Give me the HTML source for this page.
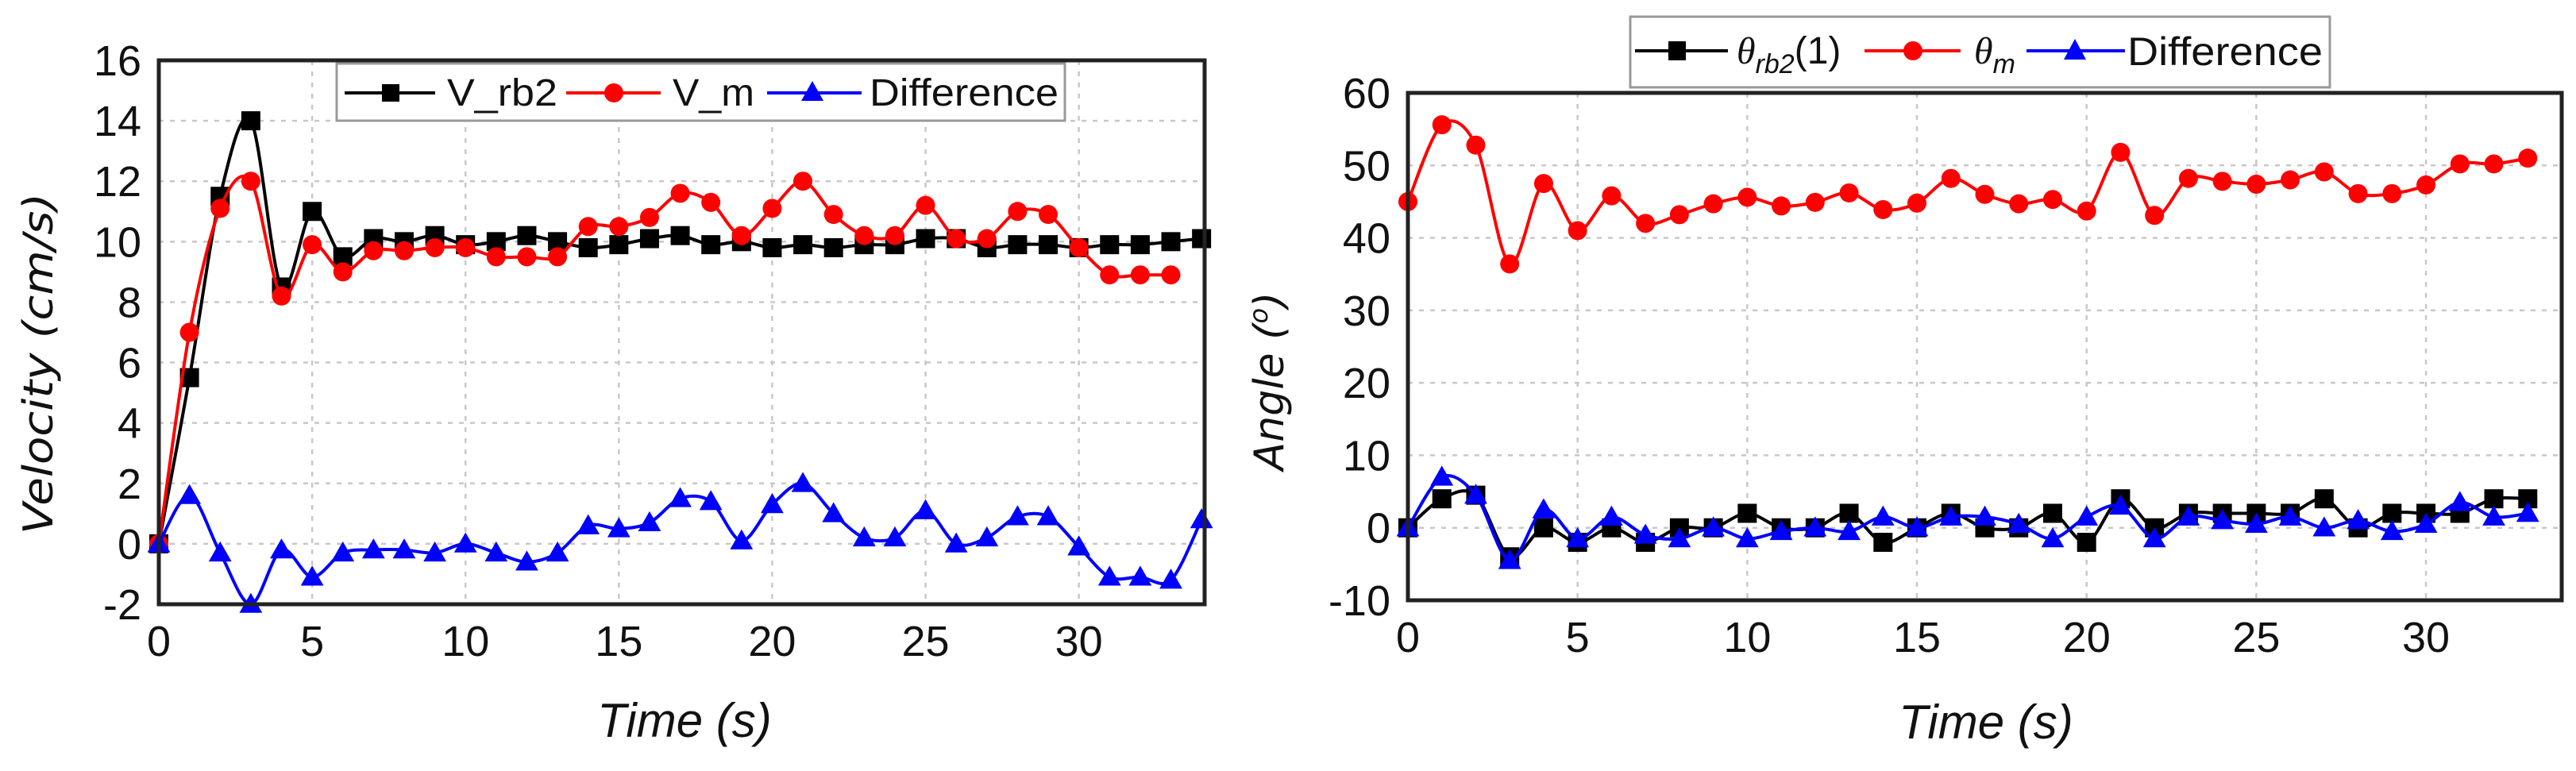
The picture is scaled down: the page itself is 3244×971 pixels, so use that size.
<!DOCTYPE html>
<html><head><meta charset="utf-8"><style>
html,body{margin:0;padding:0;background:#fff;}
svg{display:block;font-family:"Liberation Sans",Arial,sans-serif;}
</style></head><body>
<svg id="fig" width="3244" height="971" viewBox="0 0 3244 971" xmlns="http://www.w3.org/2000/svg">
<g id="left"></g>
<g id="right"></g>
</svg>
<script>
// ---------- Left chart data ----------
const velTime = [0,1,2,3,4,5,6,7,8,9,10,11,12,13,14,15,16,17,18,19,20,21,22,23,24,25,26,27,28,29,30,31,32,33,34];
const vRb2 = [0,5.5,11.5,14,8.5,11,9.5,10.1,10,10.2,9.9,10,10.2,10,9.8,9.9,10.1,10.2,9.9,10,9.8,9.9,9.8,9.9,9.9,10.1,10.1,9.8,9.9,9.9,9.8,9.9,9.9,10,10.1];
const vM = [0,7,11.1,12,8.2,9.9,9,9.7,9.7,9.8,9.8,9.5,9.5,9.5,10.5,10.5,10.8,11.6,11.3,10.2,11.1,12,10.9,10.2,10.2,11.2,10.1,10.1,11,10.9,9.8,8.9,8.9,8.9];
const vDiff = [0,1.6,-0.3,-2,-0.2,-1.1,-0.3,-0.2,-0.2,-0.3,0,-0.3,-0.6,-0.3,0.6,0.5,0.7,1.5,1.4,0.1,1.3,2,1,0.2,0.2,1.1,0,0.2,0.9,0.9,-0.1,-1.1,-1.1,-1.2,0.8];
const velXTicks = [0,5,10,15,20,25,30];
const velYTicks = [-2,0,2,4,6,8,10,12,14,16];

// ---------- Right chart data ----------
const angTime = [0,1,2,3,4,5,6,7,8,9,10,11,12,13,14,15,16,17,18,19,20,21,22,23,24,25,26,27,28,29,30,31,32,33];
const thRb2 = [0,4,4.5,-4,0,-2,0,-2,0,0,2,0,0,2,-2,0,2,0,0,2,-2,4,0,2,2,2,2,4,0,2,2,2,4,4];
const thM = [45,55.6,52.8,36.4,47.5,41,45.8,42,43.2,44.7,45.6,44.4,44.9,46.2,43.9,44.8,48.2,46,44.7,45.3,43.7,51.8,43.1,48.2,47.8,47.4,48,49.1,46.1,46.1,47.3,50.2,50.2,51];
const thDiff = [0,7,4.5,-4.5,2.5,-1.5,1.5,-1,-1.5,0,-1.5,-0.5,0,-0.5,1.5,0,1.5,1.5,0.5,-1.5,1.5,3,-1.5,1.5,1,0.5,1.5,0,1,-0.5,0.5,3.5,1.5,2];
const angXTicks = [0,5,10,15,20,25,30];
const angYTicks = [-10,0,10,20,30,40,50,60];

const NS = "http://www.w3.org/2000/svg";
function mk(parent, tag, attrs){ const e=document.createElementNS(NS,tag); for(const k in attrs) e.setAttribute(k,attrs[k]); parent.appendChild(e); return e; }

function spline(pts){
  let d = "M"+pts[0][0].toFixed(1)+","+pts[0][1].toFixed(1);
  for(let i=0;i<pts.length-1;i++){
    const p0=pts[Math.max(0,i-1)], p1=pts[i], p2=pts[i+1], p3=pts[Math.min(pts.length-1,i+2)];
    const t=0.16;
    const c1=[p1[0]+(p2[0]-p0[0])*t, p1[1]+(p2[1]-p0[1])*t];
    const c2=[p2[0]-(p3[0]-p1[0])*t, p2[1]-(p3[1]-p1[1])*t];
    d+=" C"+c1[0].toFixed(1)+","+c1[1].toFixed(1)+" "+c2[0].toFixed(1)+","+c2[1].toFixed(1)+" "+p2[0].toFixed(1)+","+p2[1].toFixed(1);
  }
  return d;
}

function marker(g, type, x, y, color, s){
  let e;
  if(type==="square"){ e=mk(g,"rect",{x:x-s/2,y:y-s/2,width:s,height:s,fill:color}); }
  else if(type==="circle"){ e=mk(g,"circle",{cx:x,cy:y,r:s/2,fill:color}); }
  else { e=mk(g,"polygon",{points:(x)+","+(y-s*0.6)+" "+(x-s*0.6)+","+(y+s*0.45)+" "+(x+s*0.6)+","+(y+s*0.45),fill:color}); }
  return e;
}

function drawChart(g, cfg){
  const X=v=>cfg.x0+(v-cfg.xmin)*(cfg.x1-cfg.x0)/(cfg.xmax-cfg.xmin);
  const Y=v=>cfg.y1-(v-cfg.ymin)*(cfg.y1-cfg.y0)/(cfg.ymax-cfg.ymin);
  const grid=mk(g,"g",{});
  
  
  cfg.xticks.forEach(t=>{ if(t>cfg.xmin) mk(grid,"line",{x1:X(t),x2:X(t),y1:cfg.y0,y2:cfg.y1,stroke:"#c8c8c8","stroke-width":2.5,"stroke-dasharray":"6,8"}); });
  cfg.yticks.forEach(t=>{ if(t>cfg.ymin && t<cfg.ymax) mk(grid,"line",{x1:cfg.x0,x2:cfg.x1,y1:Y(t),y2:Y(t),stroke:"#c8c8c8","stroke-width":2.5,"stroke-dasharray":"6,8"}); });
  cfg.series.forEach(s=>{
    const sg=mk(g,"g",{});
    
    
    const pts=s.y.map((v,i)=>[X(cfg.t[i]),Y(v)]);
    mk(sg,"path",{d:spline(pts),fill:"none",stroke:s.color,"stroke-width":4});
    pts.forEach(p=>{ const m=marker(sg,s.type,p[0],p[1],s.color,cfg.ms);
      
       });
  });
  const frame=mk(g,"rect",{x:cfg.x0,y:cfg.y0,width:cfg.x1-cfg.x0,height:cfg.y1-cfg.y0,fill:"none",stroke:"#222","stroke-width":5});
  
  
  cfg.xticks.forEach(t=>{ const e=mk(g,"text",{x:X(t),y:cfg.y1+65,"text-anchor":"middle","font-size":54,fill:"#111"}); e.textContent=t;
    
     });
  cfg.yticks.forEach(t=>{ const e=mk(g,"text",{x:cfg.x0-22,y:Y(t)+19,"text-anchor":"end","font-size":54,fill:"#111"}); e.textContent=(t<0?"-"+Math.abs(t):t);
    
     });
}

const left=document.getElementById('left');
drawChart(left,{x0:200,x1:1517,y0:76,y1:761,xmin:0,xmax:34.1,ymin:-2,ymax:16,xticks:velXTicks,yticks:velYTicks,t:velTime,ms:24,
  series:[{name:'v-rb2-series',y:vRb2,color:'#000',type:'square'},{name:'v-m-series',y:vM,color:'#f00',type:'circle'},{name:'v-difference-series',y:vDiff,color:'#00f',type:'triangle'}]});
const right=document.getElementById('right');
drawChart(right,{x0:1773,x1:3226,y0:117,y1:756,xmin:0,xmax:34,ymin:-10,ymax:60,xticks:angXTicks,yticks:angYTicks,t:angTime,ms:24,
  series:[{name:'theta-rb2-series',y:thRb2,color:'#000',type:'square'},{name:'theta-m-series',y:thM,color:'#f00',type:'circle'},{name:'theta-difference-series',y:thDiff,color:'#00f',type:'triangle'}]});
</script>
<svg style="position:absolute;left:0;top:0" width="3244" height="971" viewBox="0 0 3244 971" xmlns="http://www.w3.org/2000/svg" font-family="Liberation Sans, Arial, sans-serif">
  <text x="862" y="928" text-anchor="middle" font-size="60" font-style="italic" fill="#111">Time (s)</text>
  <text x="2501" y="930" text-anchor="middle" font-size="60" font-style="italic" fill="#111">Time (s)</text>
  <text transform="translate(66,458) rotate(-90)" text-anchor="middle" font-family="DejaVu Sans, sans-serif" font-size="52" font-style="italic" fill="#111" textLength="430" lengthAdjust="spacingAndGlyphs">Velocity (cm/s)</text>
  <text transform="translate(1616,480) rotate(-90)" text-anchor="middle" font-family="DejaVu Sans, sans-serif" font-size="52" font-style="italic" fill="#111">Angle (<tspan font-size="32" dy="-20">o</tspan><tspan dy="20">)</tspan></text>

  <g>
    <rect x="424" y="80" width="917" height="72" fill="#fff" stroke="#999" stroke-width="3"/>
    <line x1="434" y1="117" x2="548" y2="117" stroke="#000" stroke-width="4"/>
    <rect x="481" y="106" width="22" height="22" fill="#000"/>
    <text x="563" y="133" font-size="48" textLength="139" lengthAdjust="spacingAndGlyphs" fill="#111">V_rb2</text>
    <line x1="713" y1="117" x2="832" y2="117" stroke="#f00" stroke-width="4"/>
    <circle cx="773" cy="117" r="12" fill="#f00"/>
    <text x="847" y="133" font-size="48" textLength="103" lengthAdjust="spacingAndGlyphs" fill="#111">V_m</text>
    <line x1="966" y1="117" x2="1085" y2="117" stroke="#00f" stroke-width="4"/>
    <polygon points="1023,102 1009,127 1037,127" fill="#00f"/>
    <text x="1095" y="133" font-size="48" textLength="238" lengthAdjust="spacingAndGlyphs" fill="#111">Difference</text>
  </g>

  <g>
    <rect x="2053" y="21" width="881" height="89" fill="#fff" stroke="#999" stroke-width="3"/>
    <line x1="2059" y1="64" x2="2176" y2="64" stroke="#000" stroke-width="4"/>
    <rect x="2101" y="52" width="22" height="24" fill="#000"/>
    <text x="2187" y="80" font-size="48" fill="#111"><tspan font-style="italic" font-family="Liberation Serif, serif">θ</tspan><tspan font-style="italic" font-size="34" dy="12">rb2</tspan><tspan dy="-12">(1)</tspan></text>
    <line x1="2348" y1="64" x2="2469" y2="64" stroke="#f00" stroke-width="4"/>
    <circle cx="2409" cy="64" r="12" fill="#f00"/>
    <text x="2486" y="80" font-size="48" fill="#111"><tspan font-style="italic" font-family="Liberation Serif, serif">θ</tspan><tspan font-style="italic" font-size="34" dy="12">m</tspan></text>
    <line x1="2552" y1="64" x2="2676" y2="64" stroke="#00f" stroke-width="4"/>
    <polygon points="2613,49 2599,75 2627,75" fill="#00f"/>
    <text x="2679" y="82" font-size="50" textLength="246" lengthAdjust="spacingAndGlyphs" fill="#111">Difference</text>
  </g>
</svg>
</body></html>
